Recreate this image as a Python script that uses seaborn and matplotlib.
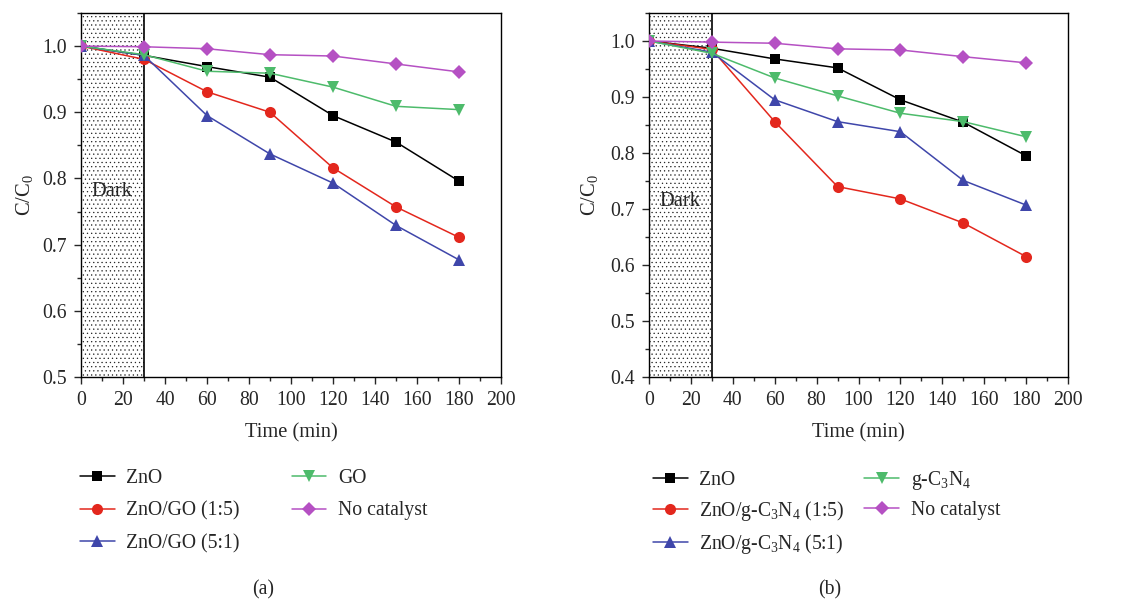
import matplotlib
matplotlib.use("Agg")
import matplotlib.pyplot as plt
import seaborn as sns
import pandas as pd
from matplotlib.ticker import MultipleLocator

# ---- data ----
time = [0, 30, 60, 90, 120, 150, 180]

a_labels = ["ZnO", "ZnO/GO (1:5)", "ZnO/GO (5:1)", "GO", "No catalyst"]
a_zno = [1.0, 0.986, 0.969, 0.953, 0.895, 0.855, 0.796]
a_zno_go_15 = [1.0, 0.980, 0.931, 0.900, 0.816, 0.757, 0.711]
a_zno_go_51 = [1.0, 0.986, 0.895, 0.837, 0.793, 0.729, 0.677]
a_go = [1.0, 0.987, 0.962, 0.959, 0.938, 0.909, 0.904]
a_none = [1.0, 0.999, 0.996, 0.987, 0.985, 0.973, 0.961]

b_labels = ["ZnO", r"ZnO/g-C$_\mathrm{3}$N$_\mathrm{4}$ (1:5)",
            r"ZnO/g-C$_\mathrm{3}$N$_\mathrm{4}$ (5:1)",
            r"g-C$_\mathrm{3}$N$_\mathrm{4}$", "No catalyst"]
b_zno = [1.0, 0.987, 0.968, 0.952, 0.895, 0.855, 0.795]
b_zno_cn_15 = [1.0, 0.985, 0.856, 0.740, 0.718, 0.675, 0.615]
b_zno_cn_51 = [1.0, 0.980, 0.895, 0.856, 0.838, 0.751, 0.707]
b_cn = [1.0, 0.978, 0.934, 0.902, 0.871, 0.856, 0.829]
b_none = [1.0, 0.998, 0.996, 0.986, 0.984, 0.972, 0.961]

colors = ["#000000", "#e3271d", "#3f46aa", "#4dbb6b", "#b550c3"]
markers = ["s", "o", "^", "v", "D"]
msizes = [6.5, 8, 8.5, 8.5, 7]

sns.set_style("ticks")
plt.rcParams["font.family"] = ["Liberation Serif", "DejaVu Serif"]
plt.rcParams["mathtext.fontset"] = "custom"
plt.rcParams["mathtext.rm"] = "Liberation Serif"
plt.rcParams["mathtext.it"] = "Liberation Serif:italic"
plt.rcParams["hatch.linewidth"] = 0.4
plt.rcParams["hatch.color"] = "#222222"

FS = 14.2
FSL = 14.8

fig = plt.figure(figsize=(11.23, 6.01), dpi=100)
W, H = 1123.0, 601.0


def make_df(labels, series):
    rows = []
    for lab, vals in zip(labels, series):
        for t, v in zip(time, vals):
            rows.append({"Time": t, "C": v, "Sample": lab})
    return pd.DataFrame(rows)


def draw(ax, labels, series, ylo, dark_y, ylab_x):
    df = make_df(labels, series)
    ax.axvspan(0, 30, facecolor="white", edgecolor="#222222", hatch="....",
               linewidth=0, zorder=0)
    ax.axvline(30, color="black", lw=1.2, zorder=1)
    for i, lab in enumerate(labels):
        sub = df[df["Sample"] == lab]
        sns.lineplot(data=sub, x="Time", y="C", ax=ax, color=colors[i],
                     marker=markers[i], markersize=msizes[i],
                     markeredgewidth=0, lw=1.1, label=lab, zorder=3 + i,
                     legend=True)
    ax.set_xlim(0, 200)
    ax.set_ylim(ylo, 1.05)
    ax.xaxis.set_major_locator(MultipleLocator(20))
    ax.xaxis.set_minor_locator(MultipleLocator(10))
    ax.yaxis.set_major_locator(MultipleLocator(0.1))
    ax.yaxis.set_minor_locator(MultipleLocator(0.05))
    ax.yaxis.set_major_formatter(matplotlib.ticker.FormatStrFormatter("%.1f"))
    ax.tick_params(axis="both", which="major", direction="out", length=5,
                   width=1, labelsize=FS, pad=5)
    ax.tick_params(axis="both", which="minor", direction="out", length=3,
                   width=1)
    for s in ax.spines.values():
        s.set_linewidth(1.0)
        s.set_color("black")
    ax.set_xlabel("Time (min)", fontsize=FSL)
    ax.set_ylabel(r"C/C$_\mathrm{0}$", fontsize=FSL)
    ax.xaxis.set_label_coords(0.5, -0.127, transform=ax.transAxes)
    ax.yaxis.set_label_coords(ylab_x, 0.5, transform=ax.transAxes)
    ax.text(5, dark_y, "Dark", fontsize=FSL, va="center", ha="left", zorder=2)
    h, l = ax.get_legend_handles_labels()
    ax.get_legend().remove()
    return h, l


axa = fig.add_axes([81 / W, 1 - 377 / H, 420 / W, 364 / H])
axb = fig.add_axes([649 / W, 1 - 377 / H, 419 / W, 364 / H])

ha, la = draw(axa, a_labels, [a_zno, a_zno_go_15, a_zno_go_51, a_go, a_none],
              0.5, 0.781, -0.109)
hb, lb = draw(axb, b_labels, [b_zno, b_zno_cn_15, b_zno_cn_51, b_cn, b_none],
              0.4, 0.7125, -0.117)

fig.legend(ha, la, loc="upper left", bbox_to_anchor=(80 / W, 1 - 469 / H),
           ncol=2, frameon=False, fontsize=FS, handlelength=1.75,
           handletextpad=0.6, columnspacing=2.64, labelspacing=0.68,
           borderpad=0, borderaxespad=0)
fig.legend(hb, lb, loc="upper left", bbox_to_anchor=(653 / W, 1 - 469 / H),
           ncol=2, frameon=False, fontsize=FS, handlelength=1.75,
           handletextpad=0.6, columnspacing=1.0, labelspacing=0.45,
           borderpad=0, borderaxespad=0)

fig.text(263 / W, 1 - 590 / H, "(a)", fontsize=FS, ha="center", va="center")
fig.text(830 / W, 1 - 590 / H, "(b)", fontsize=FS, ha="center", va="center")

fig.savefig("out.png", dpi=100)
